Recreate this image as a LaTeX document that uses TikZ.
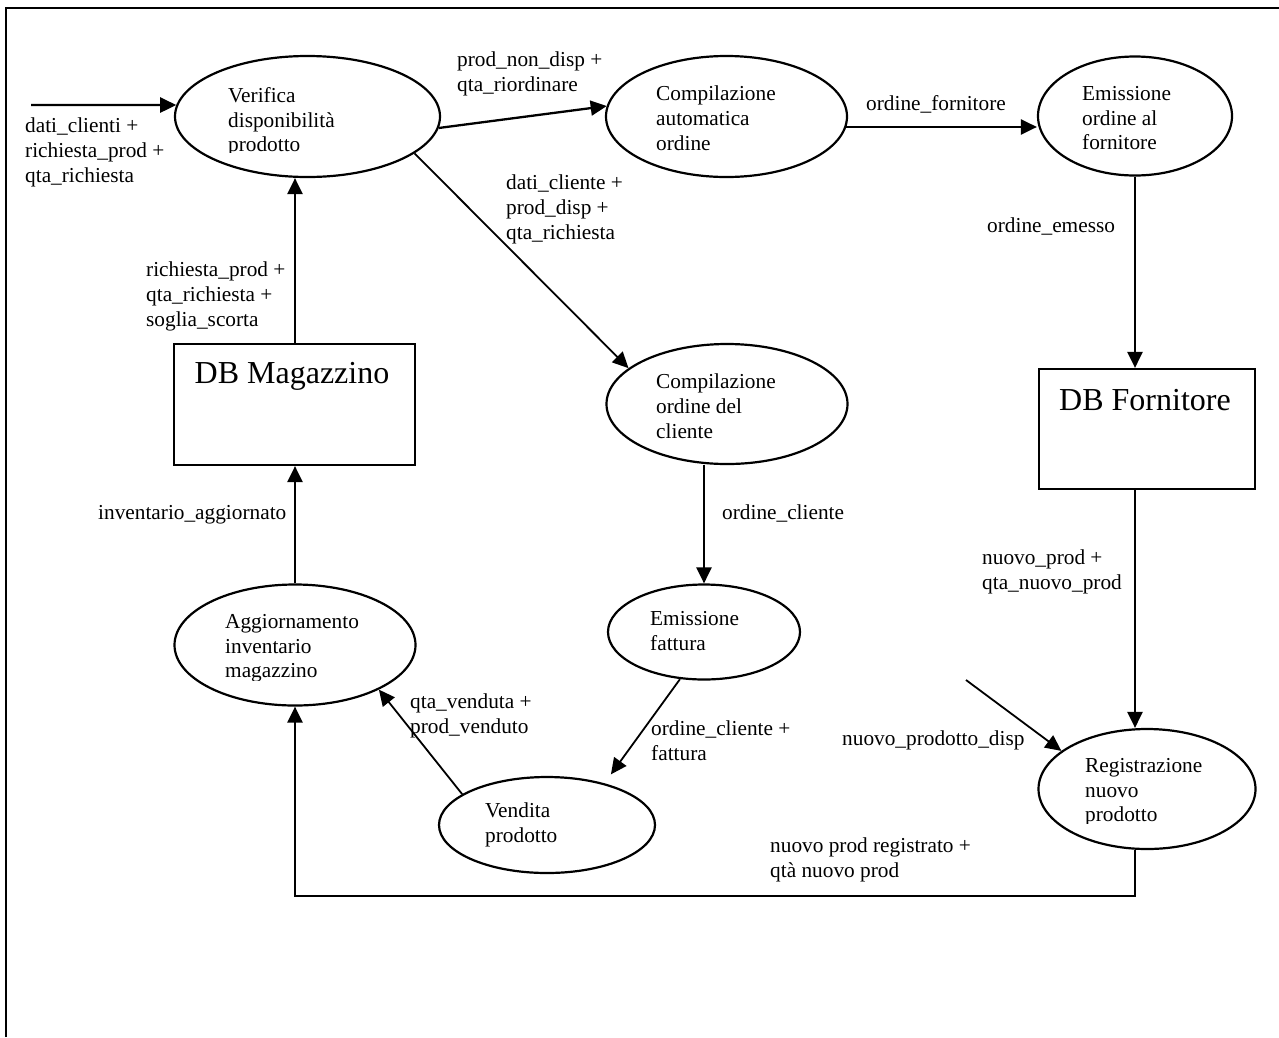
\documentclass[tikz,border=0pt]{standalone}
\usepackage{fontspec}
\setmainfont{Liberation Serif}
\usetikzlibrary{arrows.meta,shapes.geometric}
\begin{document}
\begin{tikzpicture}[x=1pt,y=-1pt,
  proc/.style={draw, ellipse, line width=2.2pt, inner sep=0pt},
  store/.style={draw, rectangle, line width=2.2pt, inner sep=0pt},
  flow/.style={line width=2.3pt, -{Triangle[length=16pt,width=15pt]}},
  slant/.style={line width=1.8pt, -{Triangle[length=16pt,width=15pt]}},
  txt/.style={anchor=north west, inner sep=0pt, align=left,
    font=\fontsize{21.3}{24.8}\selectfont, execute at begin node=\strut},
  big/.style={inner sep=0pt, font=\fontsize{32}{36}\selectfont}]
\useasboundingbox (0,0) rectangle (1279,1037);

% page frame (left and top edges)
\draw[line width=2.5pt] (6,1037) -- (6,8) -- (1279,8);

% processes
\node[proc, minimum width=265pt, minimum height=121pt] (vdp) at (307.5,116.5) {};
\node[proc, minimum width=241pt, minimum height=121pt] (cao) at (726.5,116.5) {};
\node[proc, minimum width=194pt, minimum height=119pt] (eof) at (1135,116) {};
\node[proc, minimum width=241pt, minimum height=120pt] (coc) at (727,404) {};
\node[proc, minimum width=192pt, minimum height=95pt]  (ef)  at (704,632) {};
\node[proc, minimum width=216pt, minimum height=96pt]  (vp)  at (547,825) {};
\node[proc, minimum width=241pt, minimum height=121pt] (aim) at (295,645) {};
\node[proc, minimum width=217pt, minimum height=120pt] (rnp) at (1147,789) {};

% data stores
\node[store, minimum width=241pt, minimum height=121pt] (dbm) at (294.5,404.5) {};
\node[store, minimum width=216pt, minimum height=120pt] (dbf) at (1147,429) {};
\node[big] (tdbm) at (292,376) {DB Magazzino};
\node[big] (tdbf) at (1145,400) {DB Fornitore};

% process captions
\begin{scope}
  \clip (200,60) rectangle (420,152);
  \node[txt] (tvdp) at (228,87) {Verifica\\disponibilità\\prodotto};
\end{scope}
\node[txt] (tcao) at (656,86) {Compilazione\\automatica\\ordine};
\node[txt] (teof) at (1082,86) {Emissione\\ordine al\\fornitore};
\node[txt] (tcoc) at (656,374) {Compilazione\\ordine del\\cliente};
\node[txt] (tef) at (650,611) {Emissione\\fattura};
\node[txt] (tvp) at (485,803) {Vendita\\prodotto};
\begin{scope}
  \clip (200,590) rectangle (400,680);
  \node[txt] (taim) at (225,614) {Aggiornamento\\inventario\\magazzino};
\end{scope}
\begin{scope}
  \clip (1060,735) rectangle (1250,823);
  \node[txt] (trnp) at (1085,758) {Registrazione\\nuovo\\prodotto};
\end{scope}

% free ends of external flows
\coordinate (src) at (31,105);
\coordinate (npd) at (966,680);
\coordinate (loop) at (1135,896);

% flows
\draw[flow] (src) -- (vdp.175);
\draw[flow] (vdp.-5) -- (cao.175);
\draw[flow] (cao.-5) -- (cao.-5 -| eof.west);
\draw[flow] (eof.south) -- (eof.south |- dbf.north);
\draw[flow] (dbf.south -| eof.south) -- (rnp.north -| eof.south);
\draw[slant] (npd) -- (rnp.156);
\draw[flow] (rnp.south -| loop) -- (loop) -| (aim.south);
\draw[slant] (vdp.-19) -- (coc.160);
\draw[flow] (dbm.north -| aim.north) -- (vdp.south -| aim.north);
\draw[flow] (aim.north) -- (aim.north |- dbm.south);
\draw[flow] (coc.south -| ef.north) -- (ef.north);
\draw[slant, shorten >=11pt] (ef.243) -- (vp.36);
\draw[slant] (vp.160) -- (aim.-28);

% flow labels
\node[txt] (lin) at (25,118) {dati\_clienti +\\richiesta\_prod +\\qta\_richiesta};
\node[txt] (lnd) at (457,52) {prod\_non\_disp +\\qta\_riordinare};
\node[txt] (ldc) at (506,175) {dati\_cliente +\\prod\_disp +\\qta\_richiesta};
\node[txt] (lof) at (866,93) {ordine\_fornitore};
\node[txt] (loe) at (987,215) {ordine\_emesso};
\node[txt] (lrq) at (146,262) {richiesta\_prod +\\qta\_richiesta +\\soglia\_scorta};
\node[txt] (lia) at (98,502) {inventario\_aggiornato};
\node[txt] (loc) at (722,502) {ordine\_cliente};
\node[txt] (lnp) at (982,550) {nuovo\_prod +\\qta\_nuovo\_prod};
\node[txt] (lqv) at (410,694) {qta\_venduta +\\prod\_venduto};
\node[txt] (locf) at (651,721) {ordine\_cliente +\\fattura};
\node[txt] (lnpd) at (842,728) {nuovo\_prodotto\_disp};
\node[txt] (lnpr) at (770,838) {nuovo prod registrato +\\qtà nuovo prod};
\end{tikzpicture}
\end{document}
